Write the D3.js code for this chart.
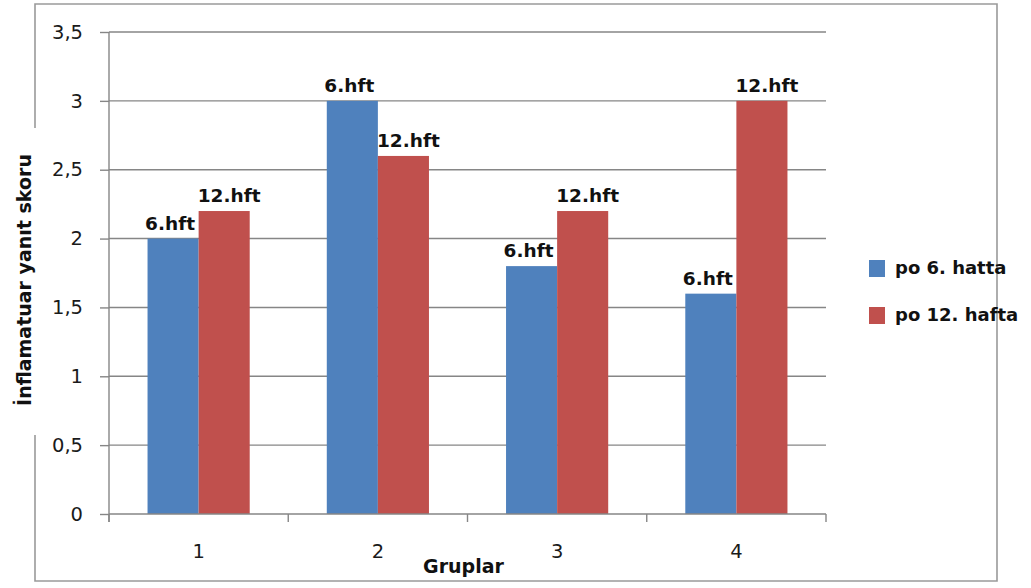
<!DOCTYPE html>
<html><head><meta charset="utf-8">
<script src="https://cdn.jsdelivr.net/npm/d3@7"></script>
<style>body{margin:0;background:#fff}svg{display:block}</style>
</head><body>
<script>
const categories = ["1","2","3","4"];
const seriesNames = ["po 6. hatta","po 12. hafta"];
const week6 = [2.0, 3.0, 1.8, 1.6];
const week12 = [2.2, 2.6, 2.2, 3.0];
const pointLabels = ["6.hft","12.hft"];
const yTicks = [0,0.5,1,1.5,2,2.5,3,3.5];
const yTickLabels = ["0","0,5","1","1,5","2","2,5","3","3,5"];
const colors = ["#4F81BD","#C0504D"];

const W=1031,H=588;
const svg=d3.select("body").append("svg").attr("width",W).attr("height",H);
const font="DejaVu Sans";
const m={l:109,r:826,t:32,b:514};

// outer border with gap for axis title
svg.append("path").attr("d","M35,128V4H997V581H35V435")
  .attr("fill","none").attr("stroke","#9a9a9a").attr("stroke-width",1.6);

const x=d3.scaleBand().domain(categories).range([m.l,m.r]).paddingInner(0.43).paddingOuter(0.215);
const xs=d3.scaleBand().domain([0,1]).range([0,x.bandwidth()]);
const y=d3.scaleLinear().domain([0,3.5]).range([m.b,m.t]);

// gridlines
svg.append("g").selectAll("line").data(yTicks.filter(d=>d>0)).join("line")
  .attr("x1",m.l).attr("x2",m.r).attr("y1",d=>y(d)).attr("y2",d=>y(d))
  .attr("stroke","#868686").attr("stroke-width",1.4);

// y axis
const yAxis=d3.axisLeft(y).tickValues(yTicks).tickSize(9).tickPadding(17)
  .tickFormat((d,i)=>yTickLabels[i]);
const gy=svg.append("g").attr("transform",`translate(${m.l},0)`).call(yAxis);
gy.select(".domain").attr("d",`M0,${m.t}V${m.b+8}`).attr("stroke","#868686").attr("stroke-width",1.4);
gy.selectAll(".tick line").attr("stroke","#868686").attr("stroke-width",1.4);
gy.selectAll(".tick text").attr("font-family",font).attr("font-size",19.5).attr("fill","#1a1a1a");

// bars
const data=[week6,week12];
const groups=svg.append("g").selectAll("g").data(categories).join("g")
  .attr("transform",d=>`translate(${x(d)},0)`);
groups.selectAll("rect").data((d,i)=>data.map((s,j)=>({j,v:s[i]}))).join("rect")
  .attr("x",d=>xs(d.j)).attr("width",xs.bandwidth())
  .attr("y",d=>y(d.v)).attr("height",d=>m.b-y(d.v)).attr("fill",d=>colors[d.j]);
groups.selectAll("text").data((d,i)=>data.map((s,j)=>({j,v:s[i]}))).join("text")
  .attr("x",d=>xs(d.j)+xs.bandwidth()/2+(d.j?5:-3)).attr("y",d=>y(d.v)-9)
  .attr("text-anchor","middle").attr("font-family",font).attr("font-weight","bold")
  .attr("font-size",18.5).attr("fill","#111").text(d=>pointLabels[d.j]);

// x axis
const gx=svg.append("g").attr("transform",`translate(0,${m.b})`);
gx.append("line").attr("x1",m.l).attr("x2",m.r).attr("stroke","#868686").attr("stroke-width",1.4);
const bounds=categories.map(c=>x(c)-x.step()*0.215).concat([m.r]);
gx.selectAll("line.t").data(bounds).join("line").attr("class","t")
  .attr("x1",d=>d).attr("x2",d=>d).attr("y1",0).attr("y2",8)
  .attr("stroke","#868686").attr("stroke-width",1.4);
gx.selectAll("text").data(categories).join("text")
  .attr("x",d=>x(d)+x.bandwidth()/2).attr("y",44).attr("text-anchor","middle")
  .attr("font-family",font).attr("font-size",19.5).attr("fill","#1a1a1a").text(d=>d);

// axis titles
svg.append("text").attr("x",(m.l+m.r)/2-4).attr("y",573).attr("text-anchor","middle")
  .attr("font-family",font).attr("font-weight","bold").attr("font-size",19).attr("fill","#111").text("Gruplar");
svg.append("text").attr("transform","translate(31,280) rotate(-90)").attr("text-anchor","middle")
  .attr("font-family",font).attr("font-weight","bold").attr("font-size",19).attr("fill","#111")
  .text("İnflamatuar yanıt skoru");

// legend
const lg=svg.append("g").selectAll("g").data(seriesNames).join("g")
  .attr("transform",(d,i)=>`translate(869,${260+i*47})`);
lg.append("rect").attr("width",16).attr("height",17).attr("fill",(d,i)=>colors[i]);
lg.append("text").attr("x",26).attr("y",14).attr("font-family",font).attr("font-weight","bold")
  .attr("font-size",18).attr("fill","#111").text(d=>d);
</script>
</body></html>
